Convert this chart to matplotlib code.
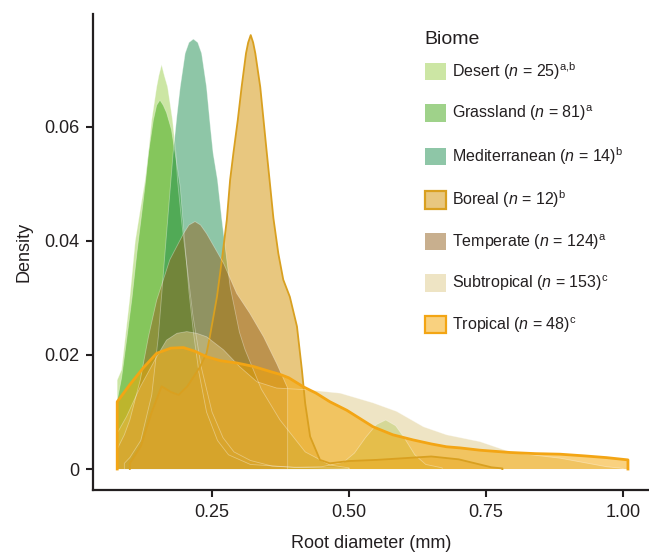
"""
Root diameter density by biome.
"""
import matplotlib
matplotlib.use('Agg')
import matplotlib.pyplot as plt

plt.rcParams['font.family'] = ['Liberation Sans', 'DejaVu Sans']
plt.rcParams['mathtext.fontset'] = 'custom'
plt.rcParams['mathtext.rm'] = 'Liberation Sans'
plt.rcParams['mathtext.it'] = 'Liberation Sans:italic'

# density curves (root diameter in mm, density)
desert_x = [0.077, 0.085, 0.10, 0.11, 0.12, 0.128, 0.134, 0.140, 0.149, 0.153, 0.158, 0.163,
            0.169, 0.178, 0.184, 0.187, 0.195, 0.205, 0.215, 0.23, 0.25, 0.27, 0.29, 0.32, 0.36,
            0.40, 0.45, 0.49, 0.51, 0.53, 0.55, 0.567, 0.585, 0.60, 0.62, 0.64, 0.67]
desert_y = [0.0156, 0.0174, 0.030, 0.040, 0.046, 0.0507, 0.0554, 0.0612, 0.067, 0.069, 0.0709,
            0.069, 0.067, 0.0612, 0.0554, 0.0507, 0.043, 0.035, 0.027, 0.018, 0.010, 0.0055,
            0.003, 0.0015, 0.0005, 0.0003, 0.0004, 0.0012, 0.0028, 0.0055, 0.0078, 0.0086,
            0.0076, 0.0056, 0.0025, 0.0008, 0.0002]

grass_x = [0.077, 0.085, 0.094, 0.104, 0.113, 0.122, 0.129, 0.134, 0.143, 0.149, 0.155, 0.161,
           0.167, 0.176, 0.185, 0.192, 0.20, 0.208, 0.216, 0.226, 0.24, 0.26, 0.28, 0.32, 0.40,
           0.50]
grass_y = [0.012, 0.016, 0.0225, 0.030, 0.038, 0.045, 0.0507, 0.0554, 0.0612, 0.0638, 0.0647,
           0.0638, 0.0625, 0.0595, 0.054, 0.0495, 0.040, 0.031, 0.024, 0.017, 0.010, 0.005,
           0.0025, 0.0008, 0.0003, 0.0001]

medit_x = [0.09, 0.10, 0.12, 0.14, 0.152, 0.164, 0.175, 0.179, 0.186, 0.192, 0.201, 0.208, 0.216,
           0.224, 0.231, 0.240, 0.247, 0.252, 0.26, 0.268, 0.283, 0.30, 0.31, 0.34, 0.374, 0.42,
           0.465, 0.50]
medit_y = [0.001, 0.002, 0.005, 0.013, 0.0232, 0.0377, 0.0507, 0.0554, 0.062, 0.067, 0.0729,
           0.0748, 0.0754, 0.0748, 0.0729, 0.067, 0.060, 0.0554, 0.0507, 0.0437, 0.032, 0.024,
           0.021, 0.014, 0.0086, 0.003, 0.0007, 0.0002]

boreal_x = [0.10, 0.12, 0.14, 0.158, 0.175, 0.189, 0.205, 0.228, 0.24, 0.246, 0.259, 0.268, 0.277,
            0.283, 0.289, 0.297, 0.304, 0.312, 0.316, 0.3206, 0.325, 0.329, 0.338, 0.344, 0.35,
            0.355, 0.362, 0.371, 0.380, 0.392, 0.405, 0.414, 0.420, 0.429, 0.447, 0.465, 0.50,
            0.55, 0.60, 0.65, 0.70, 0.73, 0.76, 0.78]
boreal_y = [0.001, 0.004, 0.010, 0.0145, 0.0135, 0.013, 0.0145, 0.0179, 0.0203, 0.0232, 0.0302,
            0.0367, 0.0437, 0.0507, 0.0554, 0.0612, 0.067, 0.0729, 0.0748, 0.0761, 0.0748, 0.0729,
            0.067, 0.0612, 0.0554, 0.0507, 0.044, 0.0378, 0.0332, 0.0302, 0.025, 0.0174, 0.0115,
            0.0057, 0.0016, 0.001, 0.0014, 0.0016, 0.0019, 0.0022, 0.0017, 0.001, 0.0003, 0.0001]

temper_x = [0.077, 0.09, 0.10, 0.119, 0.134, 0.149, 0.173, 0.198, 0.208, 0.219, 0.229, 0.240,
            0.271, 0.295, 0.319, 0.344, 0.368, 0.388]
temper_y = [0.0035, 0.006, 0.0086, 0.0156, 0.0232, 0.0296, 0.0367, 0.0413, 0.0428, 0.0434,
            0.0428, 0.0413, 0.0361, 0.0308, 0.0273, 0.0232, 0.0185, 0.0142]

subtrop_x = [0.077, 0.094, 0.119, 0.149, 0.167, 0.186, 0.204, 0.222, 0.24, 0.271, 0.301, 0.332,
             0.368, 0.423, 0.484, 0.544, 0.587, 0.636, 0.678, 0.739, 0.797, 0.885, 0.97, 1.0]
subtrop_y = [0.0063, 0.0092, 0.0144, 0.0197, 0.0226, 0.0238, 0.0241, 0.0238, 0.0232, 0.0209,
             0.0179, 0.0153, 0.0142, 0.0139, 0.0133, 0.0116, 0.0101, 0.0074, 0.006, 0.0048,
             0.0029, 0.0019, 0.0004, 0.0001]

trop_x = [0.077, 0.10, 0.125, 0.149, 0.175, 0.198, 0.22, 0.24, 0.265, 0.295, 0.325, 0.356, 0.374,
          0.39, 0.417, 0.44, 0.465, 0.496, 0.544, 0.58, 0.617, 0.65, 0.678, 0.703, 0.739, 0.794,
          0.84, 0.885, 0.93, 0.97, 1.009]
trop_y = [0.0118, 0.0148, 0.0178, 0.0203, 0.0212, 0.0213, 0.0206, 0.0197, 0.019, 0.0186, 0.018,
          0.0171, 0.0166, 0.016, 0.0144, 0.0133, 0.0118, 0.0103, 0.0074, 0.006, 0.0051, 0.0044,
          0.0039, 0.0037, 0.0033, 0.0029, 0.0027, 0.0026, 0.0023, 0.002, 0.0016]

labels = [
    r'Desert ($\it{n}$ = 25)$^{\rm a{,}b}$',
    r'Grassland ($\it{n}$ = 81)$^{\rm a}$',
    r'Mediterranean ($\it{n}$ = 14)$^{\rm b}$',
    r'Boreal ($\it{n}$ = 12)$^{\rm b}$',
    r'Temperate ($\it{n}$ = 124)$^{\rm a}$',
    r'Subtropical ($\it{n}$ = 153)$^{\rm c}$',
    r'Tropical ($\it{n}$ = 48)$^{\rm c}$',
]
curves = [(desert_x, desert_y), (grass_x, grass_y), (medit_x, medit_y), (boreal_x, boreal_y),
          (temper_x, temper_y), (subtrop_x, subtrop_y), (trop_x, trop_y)]
fills = ['#9bce4a', '#40a716', '#1f8f51', '#d39101', '#93611f', '#dfcb8b', '#f5a500']
edges = ['#ffffff', '#ffffff', '#ffffff', '#d9a020', '#ffffff', '#ffffff', '#f3a514']
edge_alpha = [0.35, 0.35, 0.35, 1.0, 0.35, 0.35, 1.0]
widths = [0.6, 0.6, 0.6, 1.3, 0.6, 0.6, 2.0]

fig = plt.figure(figsize=(6.49, 5.52), dpi=100)
ax = fig.add_axes([93 / 649, 62 / 552, 556 / 649, 476 / 552])

handles = []
for (x, y), lab, fc, ec, ea, lw in zip(curves, labels, fills, edges, edge_alpha, widths):
    xs = [x[0]] + x + [x[-1]]
    ys = [0] + y + [0]
    h = ax.fill(xs, ys, facecolor=fc, alpha=0.5, edgecolor='none', label=lab)[0]
    ax.plot(xs, ys, color=ec, lw=lw, alpha=ea, solid_joinstyle='round')
    handles.append(h)

ax.set_xlim(0.0328, 1.0474)
ax.set_ylim(-0.00368, 0.0798)
ax.set_xticks([0.25, 0.50, 0.75, 1.00])
ax.set_xticklabels(['0.25', '0.50', '0.75', '1.00'])
ax.set_yticks([0, 0.02, 0.04, 0.06])
ax.set_yticklabels(['0', '0.02', '0.04', '0.06'])
ax.tick_params(direction='out', length=5, width=1.5, colors='#231f20', labelsize=13,
               labelcolor='#231f20', pad=5)
for s in ['top', 'right']:
    ax.spines[s].set_visible(False)
for s in ['left', 'bottom']:
    ax.spines[s].set_linewidth(1.6)
    ax.spines[s].set_color('#231f20')

ax.set_xlabel('Root diameter (mm)', fontsize=13, color='#231f20', labelpad=10.5)
ax.set_ylabel('Density', fontsize=13, color='#231f20', labelpad=8)

leg_handles = []
for h, ec, lw in zip(handles, edges, widths):
    p = plt.Rectangle((0, 0), 1, 1, facecolor=h.get_facecolor(),
                      edgecolor=ec if lw > 1 else 'none', linewidth=1.6)
    leg_handles.append(p)
leg = fig.legend(leg_handles, labels, loc='upper left',
                 bbox_to_anchor=(425 / 649, 1 - 60 / 552), frameon=False, fontsize=11.5,
                 handlelength=1.31, handleheight=1.31, handletextpad=0.4,
                 labelspacing=1.37, borderpad=0, borderaxespad=0)
for t in leg.get_texts():
    t.set_color('#231f20')
fig.text(424 / 649, 1 - 40 / 552, 'Biome', fontsize=14, color='#231f20', ha='left', va='center')

fig.savefig('out.png', dpi=100)
